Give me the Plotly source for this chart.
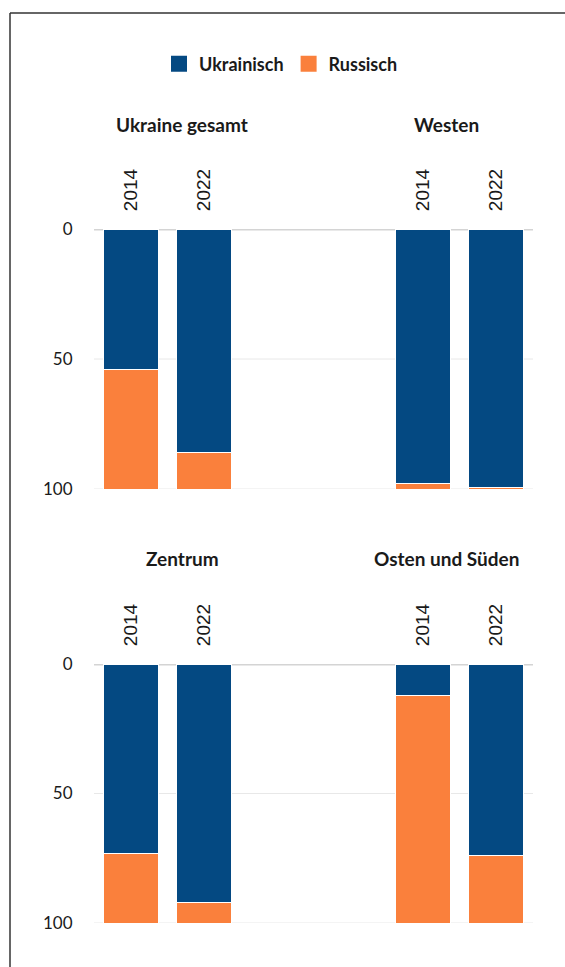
import plotly.graph_objects as go

W, H = 565, 967

regions = ["Ukraine gesamt", "Westen", "Zentrum", "Osten und Süden"]
years = ["2014", "2022"]
ukrainisch = {
    "Ukraine gesamt": [54, 86],
    "Westen": [98, 99.4],
    "Zentrum": [73, 92],
    "Osten und Süden": [12, 74],
}
russisch = {
    "Ukraine gesamt": [46, 14],
    "Westen": [2, 0.6],
    "Zentrum": [27, 8],
    "Osten und Süden": [88, 26],
}
series_names = ["Ukrainisch", "Russisch"]
colors = ["#044982", "#fa803c"]
y_ticks = [0, 50, 100]

def px_x(p):
    return p / W

def px_y(p):
    return 1 - p / H

# pixel geometry
col_x = [(94, 241), (386, 533)]
row_y = [(229, 489), (664, 923)]
title_x = [182, 446]
title_y = [125, 558]

fig = go.Figure()
text_col = "#1a1a1a"

for i, reg in enumerate(regions):
    r, c = divmod(i, 2)
    n = i + 1
    xa = "x" if n == 1 else f"x{n}"
    ya = "y" if n == 1 else f"y{n}"
    for s, (name, data) in enumerate(zip(series_names, [ukrainisch, russisch])):
        fig.add_trace(go.Bar(
            x=years, y=data[reg], name=name, xaxis=xa, yaxis=ya,
            marker=dict(color=colors[s], line=dict(color="white", width=1)),
            showlegend=False, legendgroup=name,
        ))
    xkey = "xaxis" if n == 1 else f"xaxis{n}"
    ykey = "yaxis" if n == 1 else f"yaxis{n}"
    fig.update_layout({
        xkey: dict(
            domain=[px_x(col_x[c][0]), px_x(col_x[c][1])],
            anchor=ya, side="top", type="category", tickangle=-90,
            ticks="outside", ticklen=13, tickcolor="rgba(0,0,0,0)",
            tickfont=dict(family="Liberation Sans", size=19, color=text_col),
            showgrid=False, zeroline=False, showline=False, fixedrange=True,
        ),
        ykey: dict(
            domain=[px_y(row_y[r][1]), px_y(row_y[r][0])],
            anchor=xa, range=[100, 0], tickvals=y_ticks,
            showticklabels=(c == 0),
            ticks="outside", ticklen=17, tickcolor="rgba(0,0,0,0)",
            tickfont=dict(family="Lato", size=17, color=text_col),
            showgrid=False, zeroline=False, showline=False, fixedrange=True,
        ),
    })
    fig.add_annotation(
        text=reg, xref="paper", yref="paper",
        x=px_x(title_x[c]), y=px_y(title_y[r]),
        xanchor="center", yanchor="middle", showarrow=False,
        font=dict(family="Lato", size=19, color=text_col, weight="bold"),
    )

# legend entries (square swatches)
for name, col in zip(series_names, colors):
    fig.add_trace(go.Scatter(
        x=[None], y=[None], name=name, mode="markers", legendgroup=name,
        marker=dict(symbol="square", size=16, color=col),
        xaxis="x", yaxis="y", showlegend=True,
    ))

# gridlines spanning each row
for r in range(2):
    ya = "y" if r == 0 else "y3"
    for v in y_ticks:
        fig.add_shape(
            type="line", xref="paper", yref=ya,
            x0=px_x(94), x1=px_x(533), y0=v, y1=v,
            line=dict(color="#d4d4d4" if v == 0 else "#e8e8e8", width=3 if v == 0 else 1),
            layer="below",
        )

# outer frame (left and top edges visible)
frame = dict(color="#333333", width=1.5)
fig.add_shape(type="line", xref="paper", yref="paper",
              x0=px_x(10), x1=px_x(10), y0=0, y1=px_y(13), line=frame)
fig.add_shape(type="line", xref="paper", yref="paper",
              x0=px_x(10), x1=1, y0=px_y(13), y1=px_y(13), line=frame)

fig.update_layout(
    width=W, height=H,
    margin=dict(l=0, r=0, t=0, b=0, autoexpand=False),
    barmode="stack", bargap=0.25,
    plot_bgcolor="white", paper_bgcolor="white",
    legend=dict(
        orientation="h", x=px_x(281), xanchor="center", y=px_y(64), yanchor="middle",
        font=dict(family="Lato", size=18, color=text_col, weight="bold"),
        itemclick=False, itemdoubleclick=False, traceorder="normal",
        itemwidth=30, tracegroupgap=0,
    ),
)

fig.write_html(
    "out.html",
    config={"displayModeBar": False},
    post_script="document.body.style.margin='0';document.body.style.overflow='hidden';",
)
